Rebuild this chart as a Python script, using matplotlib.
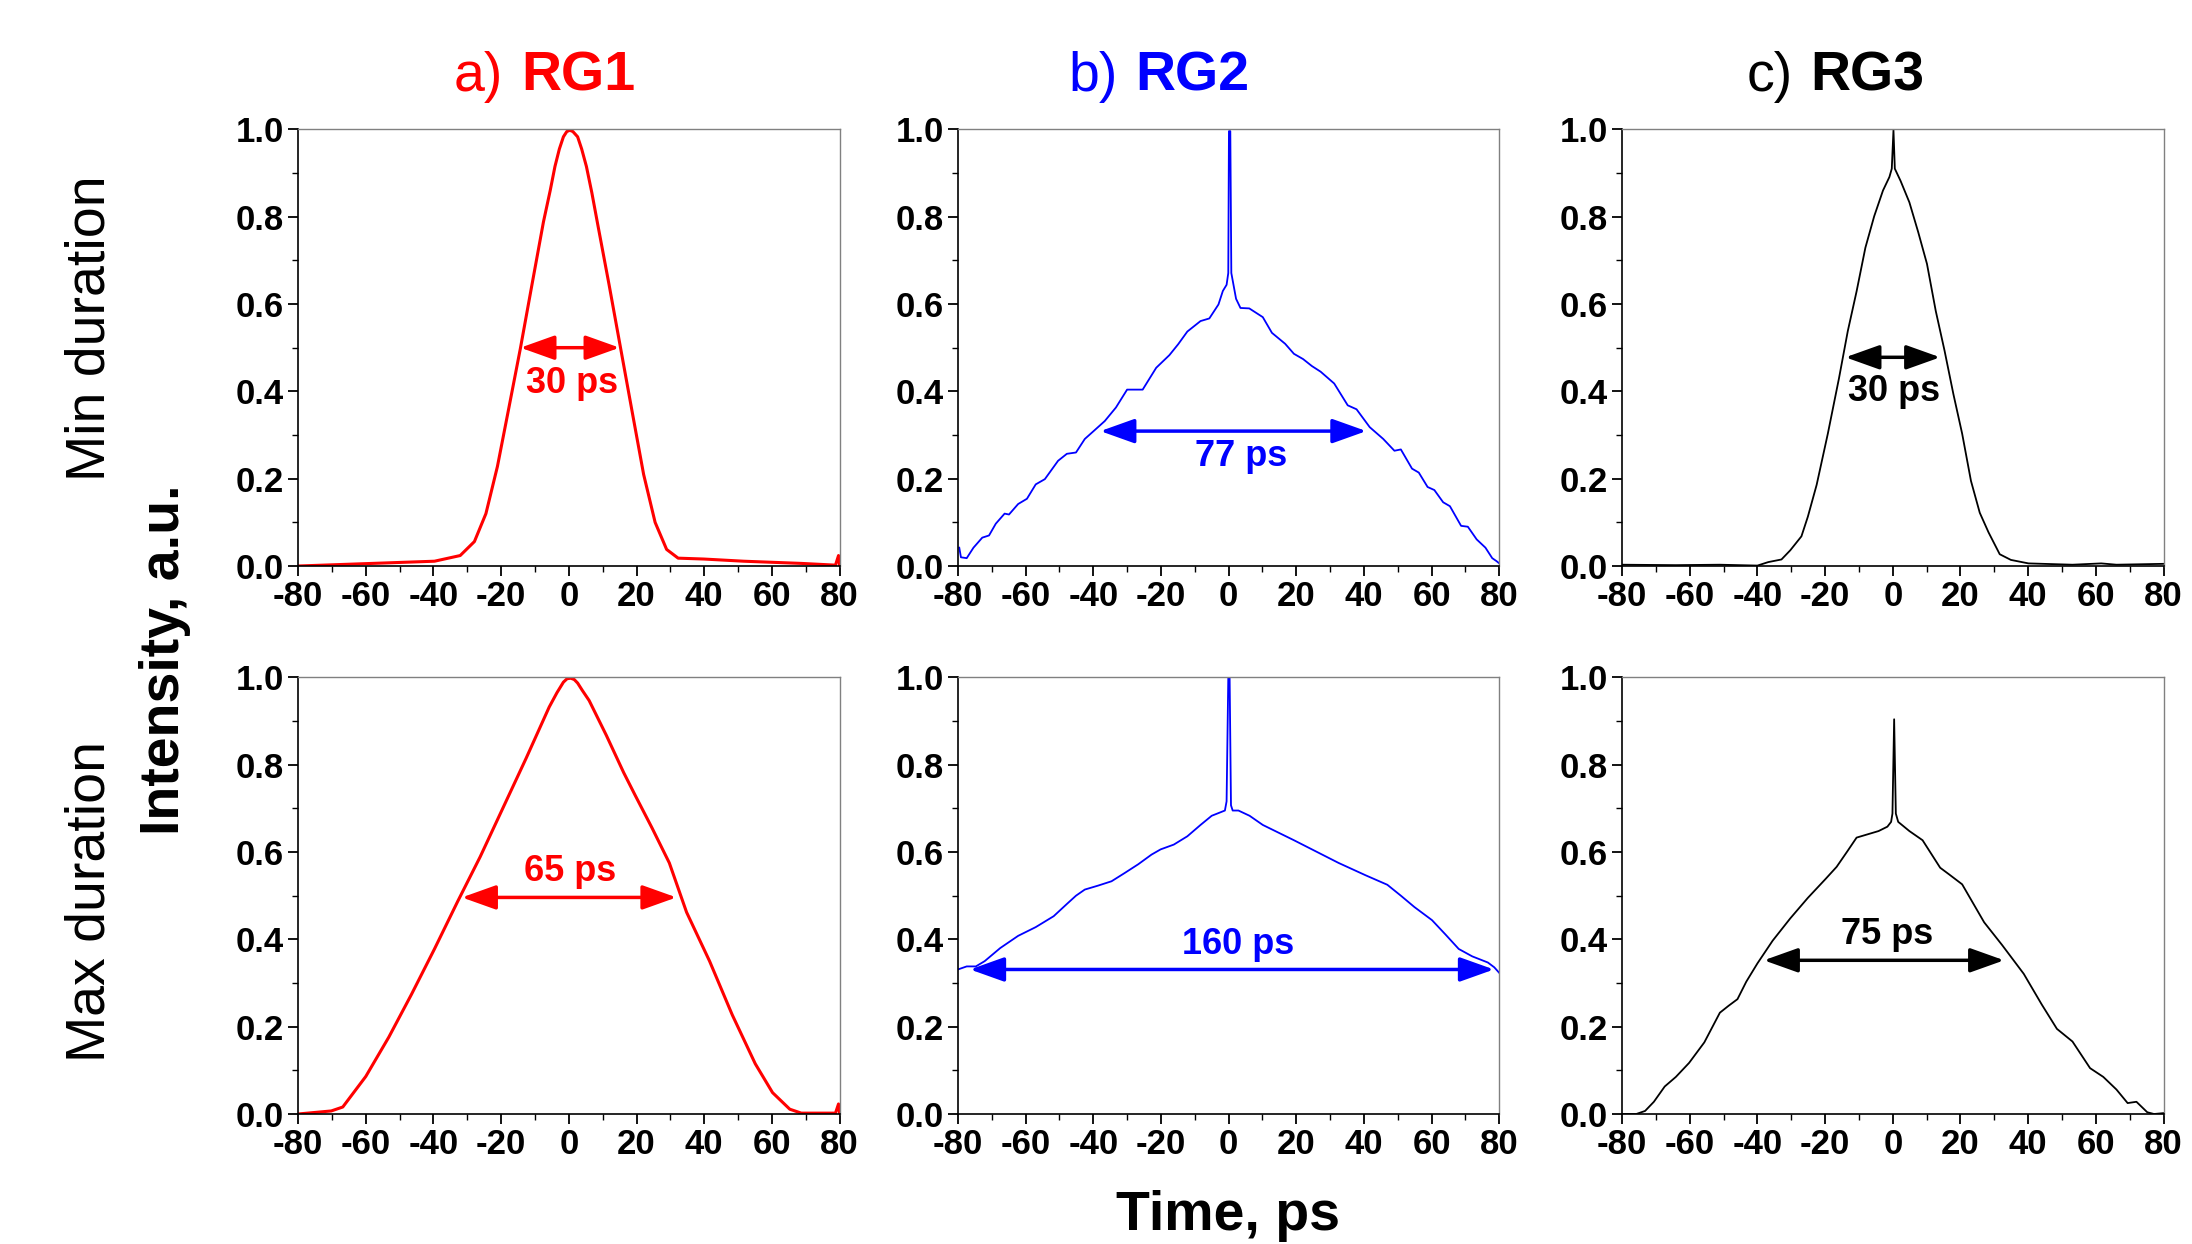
import matplotlib
matplotlib.use("Agg")
import matplotlib.pyplot as plt
from matplotlib.ticker import MultipleLocator, FormatStrFormatter

# ---- data (time in ps, intensity in a.u.) ----
rg1_min_t = [-80, -39.7, -32.1, -27.9, -24.5, -21.1, -17.7, -14.3, -10.9, -7.5, -5.5, -4.1, -2.8, -1.6, -0.6, 0.3,
             1.2, 2.6, 3.8, 5.2, 6.8, 8.6, 11.9, 15.3, 18.7, 22.1, 25.5, 28.9, 32.3, 39.9, 51.7, 68.7, 78.8, 79.7, 80]
rg1_min_i = [0.0, 0.011, 0.024, 0.056, 0.12, 0.228, 0.363, 0.499, 0.644, 0.788, 0.86, 0.915, 0.955, 0.983, 0.995, 0.998,
             0.995, 0.983, 0.955, 0.915, 0.855, 0.78, 0.644, 0.499, 0.354, 0.21, 0.10, 0.038, 0.018, 0.016, 0.011, 0.006, 0.002, 0.024, 0.002]

rg1_max_t = [-80, -70.2, -66.8, -60.0, -53.2, -46.5, -39.7, -32.9, -26.2, -19.4, -12.6, -5.8, -3.5, -1.6, -0.5, 0.6,
             1.6, 2.6, 4.0, 6.0, 11.1, 16.2, 19.6, 24.6, 29.7, 34.8, 41.6, 48.3, 55.1, 60.2, 65.3, 68.7, 78.8, 79.7, 80]
rg1_max_i = [0.0, 0.007, 0.016, 0.086, 0.176, 0.274, 0.378, 0.486, 0.589, 0.702, 0.815, 0.932, 0.965, 0.989, 0.997, 0.998,
             0.995, 0.987, 0.97, 0.947, 0.867, 0.782, 0.73, 0.655, 0.575, 0.462, 0.35, 0.227, 0.115, 0.049, 0.011, 0.002, 0.002, 0.023, 0.002]

rg2_min_t = [-79.6, -79.1, -77.4, -75.4, -72.8, -70.8, -68.8, -66.2, -64.9, -62.2, -59.6, -57.0, -54.3, -50.4,
             -47.8, -45.1, -42.5, -39.9, -36.6, -33.3, -30.0, -28.0, -25.4, -21.4, -17.5, -14.9, -12.2, -8.3,
             -5.7, -3.0, -1.7, -0.6, -0.1, 0.1, 0.5, 0.8, 2.2, 3.5, 6.1, 10.1, 12.8, 16.7, 19.3, 22.0, 24.6,
             27.2, 31.2, 35.2, 37.8, 41.7, 45.7, 49.0, 50.9, 54.2, 56.2, 58.8, 60.8, 63.4, 65.4, 68.7, 70.7,
             73.3, 75.9, 77.9, 79.2, 80]
rg2_min_i = [0.042, 0.02, 0.018, 0.042, 0.065, 0.07, 0.097, 0.12, 0.118, 0.142, 0.154, 0.187, 0.199, 0.241,
             0.257, 0.26, 0.291, 0.309, 0.332, 0.363, 0.404, 0.404, 0.404, 0.454, 0.483, 0.508, 0.537, 0.561,
             0.567, 0.599, 0.63, 0.644, 0.671, 0.996, 0.996, 0.671, 0.612, 0.591, 0.59, 0.57, 0.534, 0.509,
             0.486, 0.474, 0.458, 0.445, 0.418, 0.368, 0.359, 0.318, 0.291, 0.264, 0.267, 0.223, 0.214, 0.181,
             0.174, 0.146, 0.137, 0.092, 0.09, 0.061, 0.042, 0.018, 0.011, 0.006]

rg2_max_t = [-80, -77.4, -74.7, -72.1, -67.5, -62.2, -57.0, -51.7, -47.8, -45.1, -42.5, -38.6, -34.6, -30.7,
             -26.7, -22.8, -20.1, -16.2, -12.2, -8.3, -5.0, -1.1, -0.6, -0.1, 0.3, 0.7, 1.2, 2.9, 6.2, 10.1,
             19.3, 32.5, 40.4, 46.9, 50.9, 54.9, 60.1, 64.1, 68.0, 72.0, 76.6, 78.5, 80]
rg2_max_i = [0.331, 0.338, 0.338, 0.35, 0.38, 0.408, 0.428, 0.453, 0.481, 0.5, 0.514, 0.523, 0.533, 0.552,
             0.572, 0.594, 0.606, 0.617, 0.636, 0.662, 0.683, 0.695, 0.716, 0.998, 0.998, 0.707, 0.695, 0.695,
             0.683, 0.662, 0.627, 0.575, 0.547, 0.525, 0.5, 0.474, 0.444, 0.411, 0.378, 0.361, 0.347, 0.336, 0.323]

rg3_min_t = [-80, -64.1, -51.1, -40.0, -36.8, -32.9, -30.3, -27.0, -25.1, -22.5, -19.2, -15.9, -13.3, -10.7,
             -8.1, -5.5, -2.9, -1.0, -0.3, 0.2, 0.6, 2.3, 4.9, 7.5, 10.1, 12.7, 15.3, 17.9, 20.5, 23.1, 25.7,
             28.3, 31.6, 34.9, 40.1, 53.1, 61.6, 66.1, 80]
rg3_min_i = [0.003, 0.002, 0.003, 0.001, 0.009, 0.015, 0.036, 0.068, 0.113, 0.186, 0.303, 0.43, 0.538, 0.629,
             0.729, 0.801, 0.86, 0.891, 0.91, 0.998, 0.91, 0.882, 0.833, 0.765, 0.692, 0.584, 0.493, 0.394,
             0.303, 0.195, 0.122, 0.077, 0.027, 0.014, 0.006, 0.003, 0.006, 0.003, 0.005]

rg3_max_t = [-80, -75.8, -73.2, -70.6, -67.4, -64.1, -60.2, -55.7, -51.1, -48.5, -45.9, -43.3, -40.0, -35.5,
             -30.3, -25.1, -19.9, -16.6, -13.4, -10.7, -4.2, -1.6, -0.5, -0.1, 0.4, 0.9, 1.6, 4.9, 8.8, 14.0,
             16.6, 20.5, 27.0, 32.3, 38.7, 44.0, 48.5, 53.1, 58.3, 62.2, 66.1, 69.4, 72.0, 75.2, 77.2, 80]
rg3_max_i = [0.0, 0.0, 0.007, 0.028, 0.063, 0.085, 0.117, 0.164, 0.232, 0.248, 0.263, 0.303, 0.345, 0.397,
             0.448, 0.495, 0.538, 0.566, 0.602, 0.633, 0.648, 0.658, 0.669, 0.688, 0.904, 0.688, 0.669, 0.648,
             0.627, 0.564, 0.549, 0.526, 0.439, 0.387, 0.321, 0.251, 0.195, 0.166, 0.105, 0.085, 0.056, 0.025,
             0.028, 0.004, 0.0, 0.002]

# FWHM arrows: (left, right, level), label, label position
fwhm = {
    "a_min": (-14.3, 15.0, 0.5, "30 ps", 0.9, 0.418),
    "a_max": (-31.6, 31.8, 0.496, "65 ps", 0.4, 0.556),
    "b_min": (-37.9, 40.7, 0.309, "77 ps", 3.6, 0.25),
    "b_max": (-76.4, 78.4, 0.331, "160 ps", 2.9, 0.389),
    "c_min": (-14.0, 14.0, 0.478, "30 ps", 0.3, 0.40),
    "c_max": (-38.1, 32.9, 0.352, "75 ps", -1.6, 0.411),
}

WIDE = ["Liberation Sans", "DejaVu Sans"]

plt.rcParams["font.family"] = WIDE
plt.rcParams["axes.unicode_minus"] = False

fig = plt.figure(figsize=(21.92, 12.44), dpi=100)

lefts = [0.136, 0.437, 0.740]
width = 0.247
bottoms = [0.545, 0.1045]
height = 0.351

panels = [
    [(rg1_min_t, rg1_min_i, "a_min"), (rg2_min_t, rg2_min_i, "b_min"), (rg3_min_t, rg3_min_i, "c_min")],
    [(rg1_max_t, rg1_max_i, "a_max"), (rg2_max_t, rg2_max_i, "b_max"), (rg3_max_t, rg3_max_i, "c_max")],
]
colors = ["#ff0000", "#0000ff", "#000000"]
lws = [2.2, 1.3, 1.3]

for r in range(2):
    for c in range(3):
        ax = fig.add_axes([lefts[c], bottoms[r], width, height])
        t, y, key = panels[r][c]
        col = colors[c]
        ax.plot(t, y, color=col, lw=lws[c])
        ax.set_xlim(-80, 80)
        ax.set_ylim(0, 1.0)
        ax.xaxis.set_major_locator(MultipleLocator(20))
        ax.xaxis.set_minor_locator(MultipleLocator(10))
        ax.yaxis.set_major_locator(MultipleLocator(0.2))
        ax.yaxis.set_minor_locator(MultipleLocator(0.1))
        ax.yaxis.set_major_formatter(FormatStrFormatter("%.1f"))
        ax.tick_params(which="major", direction="out", length=7, width=1.3, pad=3)
        ax.tick_params(which="minor", direction="out", length=4, width=1.0)
        ax.tick_params(top=False, right=False)
        for lab in ax.get_xticklabels() + ax.get_yticklabels():
            lab.set_fontweight("bold")
            lab.set_fontsize(25)
        for s in ["left", "bottom"]:
            ax.spines[s].set_color("black")
            ax.spines[s].set_linewidth(1.2)
        for s in ["top", "right"]:
            ax.spines[s].set_color("#808080")
            ax.spines[s].set_linewidth(1.0)

        x0, x1, lev, txt, tx, ty = fwhm[key]
        ax.annotate("", xy=(x1, lev), xytext=(x0, lev),
                    arrowprops=dict(arrowstyle="<|-|>,head_length=0.7,head_width=0.25",
                                    mutation_scale=30, color=col, lw=2.5, shrinkA=0, shrinkB=0))
        ax.text(tx, ty, txt, color=col, fontsize=26, fontweight="bold",
                ha="center", va="center")

# column titles
title_y = 0.927
fig.text(0.2295, title_y, "a)", color="#ff0000", fontsize=40, ha="right", va="baseline")
fig.text(0.238, title_y, "RG1", color="#ff0000", fontsize=40, fontweight="bold",
         ha="left", va="baseline")
fig.text(0.510, title_y, "b)", color="#0000ff", fontsize=40, ha="right", va="baseline")
fig.text(0.518, title_y, "RG2", color="#0000ff", fontsize=40, fontweight="bold", ha="left", va="baseline")
fig.text(0.818, title_y, "c)", color="#000000", fontsize=40, ha="right", va="baseline")
fig.text(0.826, title_y, "RG3", color="#000000", fontsize=40, fontweight="bold", ha="left", va="baseline")

# row and axis labels
fig.text(0.0415, 0.736, "Min duration", fontsize=40, rotation=90, ha="center", va="center")
fig.text(0.0415, 0.275, "Max duration", fontsize=40, rotation=90, ha="center", va="center")
fig.text(0.0753, 0.47, "Intensity, a.u.", fontsize=40, fontweight="bold", rotation=90,
         ha="center", va="center")
fig.text(0.56, 0.0225, "Time, ps", fontsize=40, fontweight="bold", ha="center", va="center")

fig.savefig("out.png", dpi=100)
plt.close(fig)
